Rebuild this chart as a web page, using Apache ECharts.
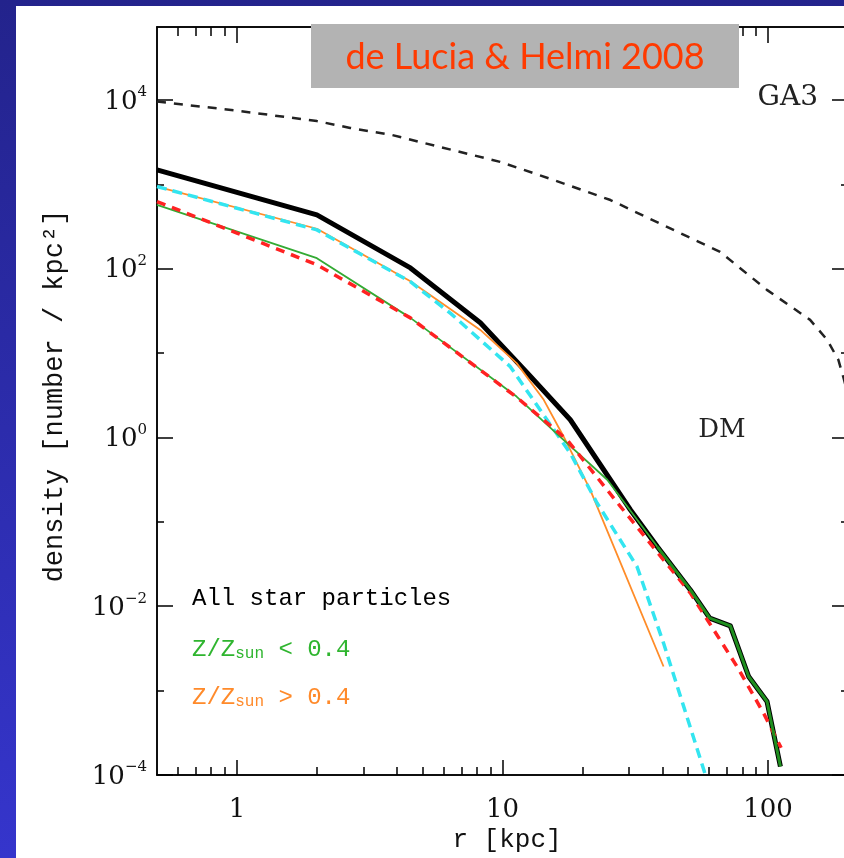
<!DOCTYPE html>
<html>
<head>
<meta charset="utf-8">
<title>de Lucia & Helmi 2008 - density profiles</title>
<script src="https://cdn.jsdelivr.net/npm/echarts@6/dist/echarts.min.js"></script>
<style>
  html, body { margin: 0; padding: 0; }
  #chart { width: 844px; height: 858px; }
</style>
</head>
<body>
<div id="chart"></div>
<script>
// 축 눈금 (kpc, number / kpc^2)
var rTicks = [1, 10, 100];
var rMinorTicks = [0.6, 0.7, 0.8, 0.9, 2, 3, 4, 5, 6, 7, 8, 9, 20, 30, 40, 50, 60, 70, 80, 90];
var densityTicks = [1e-4, 1e-2, 1, 1e2, 1e4];
var densityMinorTicks = [1e-3, 1e-1, 10, 1e3];

// DM (GA3) - black dashed
var dmR = [0.5, 1, 2, 2.67, 3.81, 9.8, 15.5, 25.5, 39.3, 66, 99, 144, 167, 184, 192, 200];
var dmDensity = [9550, 7450, 5600, 4650, 3850, 1840, 1130, 650, 340, 158, 56, 24.7, 14.3, 8.3, 5.2, 3.2];

// All star particles - thick black
var allR = [0.5, 2, 4.5, 8.25, 12.4, 18, 30.3, 38.3, 51, 60.3, 72.1, 84.5, 99.1, 111.3];
var allDensity = [1480, 434, 102, 22.8, 5.8, 1.62, 0.139, 0.0506, 0.0156, 0.00723, 0.00586, 0.00147, 0.000743, 0.000126];

// Z/Zsun < 0.4 - green (thin inside, thicker outside)
var poorR = [0.5, 2, 4.5, 11.3, 17.5, 24.8, 38.3, 51, 60.3, 72.1, 84.5, 99.1, 111.3];
var poorDensity = [570, 133, 26.1, 3.05, 0.856, 0.315, 0.0506, 0.0156, 0.00723, 0.00586, 0.00147, 0.000743, 0.000126];
var poorOuterFrom = 38.3;

// Z/Zsun < 0.4 fit - red dashed
var poorFitR = [0.5, 1, 2, 4.5, 11.3, 17.5, 27.8, 51, 76.4, 96.2, 112];
var poorFitDensity = [624, 264, 111, 26.1, 3.0, 0.94, 0.152, 0.0143, 0.00193, 0.00054, 0.00021];

// Z/Zsun > 0.4 - orange
var richR = [0.5, 2, 4.5, 8.25, 11.3, 14.3, 17, 21.4, 40.4];
var richDensity = [940, 297, 71, 18.8, 7.6, 2.79, 1.02, 0.239, 0.00193];

// Z/Zsun > 0.4 fit - cyan dashed
var richFitR = [0.5, 2, 4.5, 6.36, 10.7, 14.7, 18, 22.7, 32.1, 40.4, 48.1, 58.1];
var richFitDensity = [940, 288, 70, 29.7, 6.9, 1.62, 0.65, 0.167, 0.0295, 0.00366, 0.00065, 0.0001];

function pairs(xs, ys) {
	var out = [];
	for (var i = 0; i < xs.length; i++) {
		out.push([xs[i], ys[i]]);
	}
	return out;
}

var serifFont = '"DejaVu Serif", serif';
var monoFont = '"Liberation Mono", monospace';

var poorAll = pairs(poorR, poorDensity);
var poorInner = poorAll.filter(function (p) { return p[0] <= poorOuterFrom; });
var poorOuter = poorAll.filter(function (p) { return p[0] >= poorOuterFrom; });

function xAxisDef(position, ticks, len, labels) {
	return {
		type: 'log', logBase: 10, min: 0.5, max: 200, position: position,
		axisLine: { show: true, onZero: false, lineStyle: { color: '#000', width: 1.5 } },
		axisTick: { show: true, inside: true, length: len, customValues: ticks, lineStyle: { color: '#000', width: 1.5 } },
		axisLabel: labels ? {
			show: true, customValues: ticks, margin: 22,
			fontFamily: serifFont, fontSize: 26, color: '#111',
			formatter: function (v) { return String(Math.round(v)); }
		} : { show: false },
		splitLine: { show: false },
		minorTick: { show: false }
	};
}

function yAxisDef(position, ticks, len, labels) {
	return {
		type: 'log', logBase: 10, min: 1e-4, max: 73000, position: position,
		axisLine: { show: true, onZero: false, lineStyle: { color: '#000', width: 1.5 } },
		axisTick: { show: true, inside: true, length: len, customValues: ticks, lineStyle: { color: '#000', width: 1.5 } },
		axisLabel: labels ? {
			show: true, customValues: ticks, margin: 10,
			formatter: function (v) {
				var e = Math.round(Math.log(v) / Math.LN10);
				var s = e < 0 ? '\u2212' + (-e) : String(e);
				return '{b|10}{s|' + s + '}';
			},
			rich: {
				b: { fontFamily: serifFont, fontSize: 26, color: '#111', lineHeight: 30, verticalAlign: 'bottom' },
				s: { fontFamily: serifFont, fontSize: 15, color: '#111', lineHeight: 15, verticalAlign: 'top' }
			}
		} : { show: false },
		splitLine: { show: false },
		minorTick: { show: false }
	};
}

function lineSeries(name, data, color, width, dash) {
	return {
		name: name, type: 'line', data: data,
		xAxisIndex: 0, yAxisIndex: 0,
		symbol: 'none', showSymbol: false, smooth: false,
		lineStyle: { color: color, width: width, type: dash || 'solid', cap: 'butt', join: 'round' },
		emphasis: { disabled: true },
		animation: false
	};
}

// 범례 한 줄 (아래첨자 sun)
function legendLine(y, op, color) {
	return {
		type: 'text', z: 50, silent: true, x: 192, y: y,
		style: {
			text: '{m|Z/Z}{sub|sun}{m| ' + op + ' 0.4}', align: 'left', verticalAlign: 'middle',
			rich: {
				m: { fontFamily: monoFont, fontSize: 24, lineHeight: 24, fill: color, verticalAlign: 'top' },
				sub: { fontFamily: monoFont, fontSize: 16, lineHeight: 16, fill: color, verticalAlign: 'bottom', padding: [20, 0, 0, 0] }
			}
		}
	};
}

var myChart = echarts.init(document.getElementById('chart'), null, { renderer: 'canvas' });

var option = {
	animation: false,
	backgroundColor: {
		type: 'linear', x: 0, y: 0, x2: 0, y2: 1,
		colorStops: [{ offset: 0, color: '#23238c' }, { offset: 1, color: '#3535cc' }]
	},
	grid: { left: 157, top: 27, width: 691, height: 748, containLabel: false, outerBoundsMode: 'none' },
	xAxis: [
		xAxisDef('bottom', rTicks, 15, true),
		xAxisDef('bottom', rMinorTicks, 8, false),
		xAxisDef('top', rTicks, 16, false),
		xAxisDef('top', rMinorTicks, 9, false)
	],
	yAxis: [
		yAxisDef('left', densityTicks, 16, true),
		yAxisDef('left', densityMinorTicks, 7, false),
		yAxisDef('right', densityTicks, 16, false),
		yAxisDef('right', densityMinorTicks, 7, false)
	],
	series: [
		lineSeries('DM', pairs(dmR, dmDensity), '#222', 2.5, [9, 8]),
		lineSeries('All star particles', pairs(allR, allDensity), '#000', 5),
		lineSeries('Z/Zsun > 0.4', pairs(richR, richDensity), '#ff8c28', 1.8),
		lineSeries('Z/Zsun > 0.4 fit', pairs(richFitR, richFitDensity), '#33e5f0', 3.5, [10, 6]),
		lineSeries('Z/Zsun < 0.4', poorInner, '#33aa33', 1.8),
		lineSeries('Z/Zsun < 0.4 fit', pairs(poorFitR, poorFitDensity), '#ff2222', 3.5, [9, 7]),
		lineSeries('Z/Zsun < 0.4 outer', poorOuter, '#1f8f1f', 3)
	],
	graphic: {
		elements: [
			{ type: 'rect', z: -100, silent: true, shape: { x: 16, y: 6, width: 830, height: 860 }, style: { fill: '#ffffff' } },
			// 제목 상자
			{ type: 'rect', z: 100, silent: true, shape: { x: 311, y: 24, width: 428, height: 64 }, style: { fill: '#b3b3b3' } },
			{ type: 'text', z: 101, silent: true, x: 525, y: 57,
				style: { text: 'de Lucia & Helmi 2008', fill: '#ff3a00', font: '36px "Comic Sans MS", Lato, "Noto Sans", sans-serif', align: 'center', verticalAlign: 'middle' } },
			{ type: 'text', z: 50, silent: true, x: 818, y: 98,
				style: { text: 'GA3', fill: '#222', font: '28px ' + serifFont, align: 'right', verticalAlign: 'middle' } },
			{ type: 'text', z: 50, silent: true, x: 722, y: 430,
				style: { text: 'DM', fill: '#222', font: '26px ' + serifFont, align: 'center', verticalAlign: 'middle' } },
			// 범례
			{ type: 'text', z: 50, silent: true, x: 192, y: 599,
				style: { text: 'All star particles', fill: '#000', font: '24px ' + monoFont, align: 'left', verticalAlign: 'middle' } },
			legendLine(650, '<', '#2fb52f'),
			legendLine(698, '>', '#ff8a2a'),
			// 축 제목
			{ type: 'text', z: 50, silent: true, x: 507, y: 840,
				style: { text: 'r [kpc]', fill: '#111', font: '26px ' + monoFont, align: 'center', verticalAlign: 'middle' } },
			{ type: 'text', z: 50, silent: true, x: 55, y: 396, rotation: Math.PI / 2,
				style: { text: 'density [number / kpc\u00b2]', fill: '#111', font: '27px ' + monoFont, align: 'center', verticalAlign: 'middle' } }
		]
	}
};

myChart.setOption(option);
</script>
</body>
</html>
